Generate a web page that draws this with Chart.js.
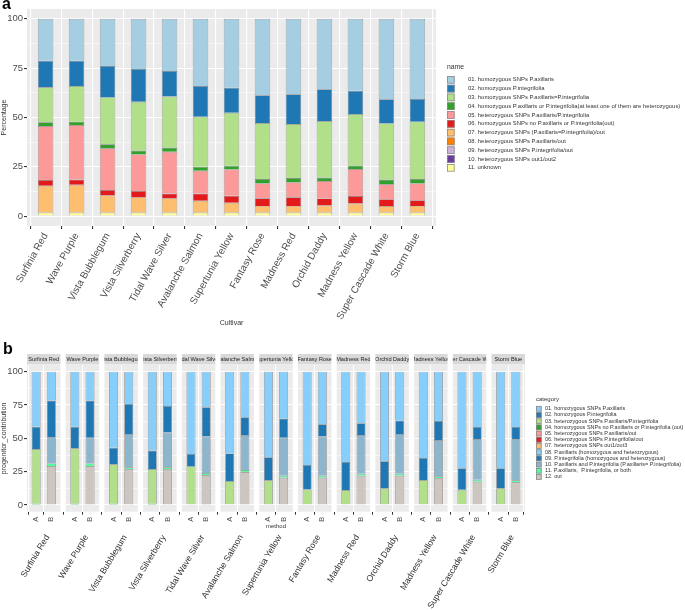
<!DOCTYPE html>
<html>
<head>
<meta charset="utf-8">
<script src="https://cdn.jsdelivr.net/npm/chart.js@4.4.1/dist/chart.umd.min.js"></script>
<style>
  body { margin: 0; width: 685px; height: 610px; position: relative; background: #fff; overflow: hidden;
         font-family: "Liberation Sans", Arial, sans-serif; }
  .panel { position: absolute; left: 0; width: 685px; }
  #wrapA { top: 0; height: 332px; }
  #wrapB { top: 332px; height: 278px; }
  .tag { position: absolute; font-weight: bold; font-size: 16px; line-height: 1; color: #000; }
</style>
</head>
<body>
<div id="wrapA" class="panel"><canvas id="chartA"></canvas></div>
<div id="wrapB" class="panel"><canvas id="chartB"></canvas></div>
<div class="tag" style="left:2px;top:-4px">a</div>
<div class="tag" style="left:3px;top:341px">b</div>
<script>
const cultivares = ['Surfinia Red', 'Wave Purple', 'Vista Bubblegum', 'Vista Silverberry', 'Tidal Wave Silver',
    'Avalanche Salmon', 'Supertunia Yellow', 'Fantasy Rose', 'Madness Red', 'Orchid Daddy', 'Madness Yellow',
    'Super Cascade White', 'Storm Blue'];
const divisionesY = [0, 12.5, 25, 37.5, 50, 62.5, 75, 87.5, 100];

// ---- panel a: porcentaje por cultivar
const nombresA = [
    '01. homozygous SNPs P.axillaris',
    '02. homozygous P.integrifolia',
    '03. homozygous SNPs P.axillaris=P.integrifolia',
    '04. homozygous P.axillaris or P.integrifolia(at least one of them are heterozygous)',
    '05. heterozygous SNPs P.axillaris/P.integrifolia',
    '06. homozygous SNPs no P.axillaris or P.integrifolia(out)',
    '07. heterozygous SNPs (P.axillaris=P.integrifolia)/out',
    '08. heterozygous SNPs P.axillaris/out',
    '09. heterozygous SNPs P.integrifolia/out',
    '10. heterozygous SNPs out1/out2',
    '11. unknown'
];
const coloresA = ['#a6cee3', '#1f78b4', '#b2df8a', '#33a02c', '#fb9a99', '#e31a1c', '#fdbf6f', '#ff7f00', '#cab2d6', '#6a3d9a', '#ffff99'];
const a01 = [21.2, 21.2, 23.9, 25.4, 26.4, 34.0, 34.9, 38.7, 38.2, 35.7, 36.5, 40.8, 40.6];
const a02 = [13.5, 12.8, 15.9, 16.6, 13.0, 15.6, 12.7, 14.1, 15.1, 16.1, 11.7, 12.2, 11.5];
const a03 = [17.7, 18.1, 23.8, 24.7, 25.8, 25.4, 26.9, 28.4, 27.4, 28.6, 26.1, 28.4, 29.1];
const a04 = [1.9, 1.7, 2.0, 2.0, 2.2, 2.0, 1.8, 2.2, 2.2, 1.8, 1.8, 2.4, 2.2];
const a05 = [27.4, 27.6, 21.2, 18.6, 21.1, 11.5, 13.4, 7.5, 7.5, 8.8, 13.7, 7.6, 8.5];
const a06 = [2.9, 2.7, 2.7, 3.2, 2.5, 3.7, 3.5, 3.9, 4.4, 3.6, 3.8, 3.5, 2.9];
const a07 = [13.6, 14.1, 8.7, 7.7, 7.2, 6.0, 5.0, 3.4, 3.4, 3.6, 4.6, 3.3, 3.4];
const a08 = [0, 0, 0, 0, 0, 0, 0, 0, 0, 0, 0, 0, 0];
const a09 = [0, 0, 0, 0, 0, 0, 0, 0, 0, 0, 0, 0, 0];
const a10 = [0, 0, 0, 0, 0, 0, 0, 0, 0, 0, 0, 0, 0];
const a11 = [1.8, 1.8, 1.8, 1.8, 1.8, 1.8, 1.8, 1.8, 1.8, 1.8, 1.8, 1.8, 1.8];
const seriesA = [a01, a02, a03, a04, a05, a06, a07, a08, a09, a10, a11];

// ---- panel b: contribucion por metodo (A / B)
const nombresB = [
    '01. homozygous SNPs P.axillaris',
    '02. homozygous P.integrifolia',
    '03. heterozygous SNPs P.axillaris/P.integrifolia',
    '04. homozygous SNPs no P.axillaris or P.integrifolia (out)',
    '05. heterozygous SNPs P.axillaris/out',
    '06. heterozygous SNPs P.integrifolia/out',
    '07. heterozygous SNPs out1/out3',
    '08. P.axillaris (homozygous and heterozygous)',
    '09. P.integrifolia (homozygous and heterozygous)',
    '10. P.axillaris and P.integrifolia (P.axillaris= P.integrifolia)',
    '11. P.axillaris,  P.integrifolia, or both',
    '12. out'
];
const coloresB = ['#87cefa', '#1f78b4', '#b2df8a', '#33a02c', '#fb9a99', '#e31a1c', '#fdbf6f', '#87cefa', '#1f78b4', '#8db6cd', '#54ff9f', '#cdc5bf'];
const metodos = ['A', 'B'];
const bA_01 = [41.3, 41.3, 57.0, 59.2, 61.7, 61.3, 64.2, 70.0, 67.8, 67.2, 64.7, 72.5, 72.5];
const bA_02 = [16.7, 16.2, 12.5, 13.8, 9.3, 20.7, 17.3, 18.3, 21.0, 20.3, 16.5, 16.0, 15.0];
const bA_03 = [41.0, 41.5, 29.5, 26.0, 28.5, 17.5, 18.0, 11.2, 10.7, 12.0, 18.3, 11.0, 12.0];
const bA_04 = [1.0, 1.0, 1.0, 1.0, 0.5, 0.5, 0.5, 0.5, 0.5, 0.5, 0.5, 0.5, 0.5];
const bB_08 = [21.7, 21.7, 24.2, 25.7, 26.7, 34.2, 35.2, 39.5, 38.7, 36.7, 37.0, 41.5, 41.5];
const bB_09 = [27.5, 27.8, 22.5, 20.0, 22.0, 13.3, 14.3, 9.2, 8.8, 10.0, 14.2, 9.0, 9.2];
const bB_10 = [19.6, 19.3, 25.0, 26.0, 27.3, 26.2, 28.5, 29.3, 29.0, 29.8, 27.3, 30.5, 30.8];
const bB_11 = [2.0, 2.0, 1.5, 1.5, 1.5, 1.5, 1.5, 1.5, 1.5, 1.5, 1.5, 1.5, 1.5];
const bB_12 = [29.2, 29.2, 26.8, 26.8, 22.5, 24.8, 20.5, 20.5, 22.0, 22.0, 20.0, 17.5, 17.0];
// categoria -> [serie metodo A, serie metodo B]
const seriesB = [
    [bA_01, null], [bA_02, null], [bA_03, null], [bA_04, null], [null, null], [null, null], [null, null],
    [null, bB_08], [null, bB_09], [null, bB_10], [null, bB_11], [null, bB_12]
];

Chart.defaults.font.family = '"Liberation Sans", Arial, sans-serif';
Chart.defaults.color = '#4d4d4d';

const FACETA = 2.2;       // ancho de cada faceta en unidades del eje x
const PASO = 2.545;       // faceta + hueco blanco
const BORDE = 'rgba(85,85,85,0.7)';

function ejeY(titulo) {
    return {
        min: -5, max: 105, stacked: true,
        afterBuildTicks: s => { s.ticks = divisionesY.map(v => ({ value: v })); },
        afterFit: s => { s.width = 27; },
        ticks: { callback: v => (v % 25 === 0 ? v : ''), color: '#4d4d4d', font: { size: 9.5 }, padding: 1 },
        grid: {
            color: '#fff',
            lineWidth: c => (c.tick && c.tick.value % 25 === 0 ? 1.1 : 0.5),
            tickColor: c => (c.tick && c.tick.value % 25 === 0 ? '#333' : 'rgba(0,0,0,0)'),
            tickLength: 3
        },
        border: { display: false },
        title: { display: true, text: titulo, color: '#333', font: { size: 7 }, padding: 0 }
    };
}

function dibujarLeyenda(ctx, x, y, titulo, nombres, colores, o) {
    ctx.save();
    ctx.textAlign = 'left';
    ctx.textBaseline = 'middle';
    ctx.fillStyle = '#333';
    ctx.font = o.tituloSize + 'px "Liberation Sans", Arial, sans-serif';
    ctx.fillText(titulo, x, y);
    ctx.font = o.size + 'px "Liberation Sans", Arial, sans-serif';
    nombres.forEach((n, i) => {
        const ky = y + o.inicio + i * o.paso;
        ctx.fillStyle = colores[i];
        ctx.fillRect(x, ky, o.caja, o.caja);
        ctx.strokeStyle = '#8a8a8a';
        ctx.lineWidth = 0.8;
        ctx.strokeRect(x + 0.4, ky + 0.4, o.caja - 0.8, o.caja - 0.8);
        ctx.fillStyle = '#333';
        ctx.fillText(n, x + o.texto, ky + o.caja / 2);
    });
    ctx.restore();
}

// ---------------- panel a
const chartA = new Chart(document.getElementById('chartA'), {
    type: 'bar',
    data: {
        datasets: nombresA.map((n, k) => ({
            label: n,
            data: seriesA[k].map((v, i) => ({ x: i + 1, y: v })),
            backgroundColor: coloresA[k],
            borderColor: BORDE,
            borderWidth: 0.7,
            barPercentage: 0.5,
            categoryPercentage: 1
        })).reverse()
    },
    options: {
        responsive: true,
        maintainAspectRatio: false,
        animation: false,
        events: [],
        layout: { padding: { top: 9, right: 249, left: 0, bottom: 0 } },
        plugins: { legend: { display: false }, tooltip: { enabled: false } },
        scales: {
            x: {
                type: 'linear', min: 0.4, max: 13.6, stacked: true, offset: false,
                afterBuildTicks: s => { s.ticks = cultivares.map((c, i) => ({ value: i + 1 })); },
                afterFit: s => { s.height = 106; },
                ticks: { callback: (v, i) => cultivares[i], autoSkip: false, minRotation: 61, maxRotation: 61,
                         color: '#4d4d4d', font: { size: 10 }, padding: 2 },
                grid: { color: '#fff', lineWidth: 1.1, tickColor: '#333', tickLength: 3 },
                border: { display: false },
                title: { display: true, text: 'Cultivar', color: '#333', font: { size: 7 }, padding: { top: 0, bottom: 5 } }
            },
            y: ejeY('Percentage')
        }
    },
    plugins: [{
        id: 'panelA',
        beforeDraw(chart) {
            const { ctx, chartArea: ca } = chart;
            ctx.save();
            ctx.fillStyle = '#ebebeb';
            ctx.fillRect(ca.left, ca.top, ca.right - ca.left, ca.bottom - ca.top);
            ctx.restore();
        },
        afterDraw(chart) {
            const ca = chart.chartArea;
            dibujarLeyenda(chart.ctx, ca.right + 11, (ca.top + ca.bottom) / 2 - 50.5, 'name', nombresA, coloresA,
                { tituloSize: 6.8, size: 5.9, inicio: 9, paso: 8.8, caja: 7.6, texto: 21 });
        }
    }]
});

// ---------------- panel b
const posiciones = [];
cultivares.forEach((c, i) => metodos.forEach((m, j) => posiciones.push(i * PASO + 0.6 + j)));

const chartB = new Chart(document.getElementById('chartB'), {
    type: 'bar',
    data: {
        datasets: nombresB.map((n, k) => {
            const puntos = [];
            cultivares.forEach((c, i) => metodos.forEach((m, j) => {
                const serie = seriesB[k][j];
                if (serie) puntos.push({ x: i * PASO + 0.6 + j, y: serie[i] });
            }));
            return {
                label: n,
                data: puntos,
                backgroundColor: coloresB[k],
                borderColor: BORDE,
                borderWidth: 0.7,
                barPercentage: 0.59,
                categoryPercentage: 1
            };
        }).reverse()
    },
    options: {
        responsive: true,
        maintainAspectRatio: false,
        animation: false,
        events: [],
        layout: { padding: { top: 33, right: 160, left: 0, bottom: 78 } },
        plugins: { legend: { display: false }, tooltip: { enabled: false } },
        scales: {
            x: {
                type: 'linear', min: 0, max: 12 * PASO + FACETA, stacked: true, offset: false,
                afterBuildTicks: s => { s.ticks = posiciones.map(p => ({ value: p })); },
                afterFit: s => { s.height = 20.3; },
                ticks: { callback: (v, i) => metodos[i % 2], autoSkip: false, minRotation: 90, maxRotation: 90,
                         color: '#4d4d4d', font: { size: 7.5 }, padding: 2 },
                grid: { color: '#fff', lineWidth: 1, tickColor: '#333', tickLength: 3 },
                border: { display: false },
                title: { display: true, text: 'method', color: '#333', font: { size: 6 }, padding: { top: 0, bottom: 2 } }
            },
            y: ejeY('progenitor_contribution')
        }
    },
    plugins: [{
        id: 'facetas',
        beforeDraw(chart) {
            const { ctx, chartArea: ca, scales: { x } } = chart;
            ctx.save();
            cultivares.forEach((nombre, i) => {
                const x0 = x.getPixelForValue(i * PASO);
                const x1 = x.getPixelForValue(i * PASO + FACETA);
                ctx.fillStyle = '#ebebeb';
                ctx.fillRect(x0, ca.top, x1 - x0, ca.bottom - ca.top);
                ctx.fillStyle = '#d9d9d9';
                ctx.fillRect(x0, ca.top - 11, x1 - x0, 10.5);
                ctx.save();
                ctx.beginPath();
                ctx.rect(x0, ca.top - 11, x1 - x0, 10.5);
                ctx.clip();
                ctx.fillStyle = '#1a1a1a';
                ctx.font = '5.6px "Liberation Sans", Arial, sans-serif';
                ctx.textAlign = 'center';
                ctx.textBaseline = 'middle';
                ctx.fillText(nombre, (x0 + x1) / 2, ca.top - 5.7);
                ctx.restore();
            });
            ctx.restore();
        },
        afterDraw(chart) {
            const { ctx, chartArea: ca, scales: { x } } = chart;
            ctx.save();
            ctx.fillStyle = '#333';
            ctx.font = '8.7px "Liberation Sans", Arial, sans-serif';
            ctx.textAlign = 'right';
            ctx.textBaseline = 'middle';
            cultivares.forEach((nombre, i) => {
                ctx.save();
                ctx.translate(x.getPixelForValue(i * PASO + FACETA / 2) + 4, ca.bottom + 24);
                ctx.rotate(-59 * Math.PI / 180);
                ctx.fillText(nombre, 0, 0);
                ctx.restore();
            });
            ctx.restore();
            dibujarLeyenda(ctx, ca.right + 11, (ca.top + ca.bottom) / 2 - 39, 'category', nombresB, coloresB,
                { tituloSize: 6, size: 5.5, inicio: 6.6, paso: 6.2, caja: 5.6, texto: 9 });
        }
    }]
});
</script>
</body>
</html>
